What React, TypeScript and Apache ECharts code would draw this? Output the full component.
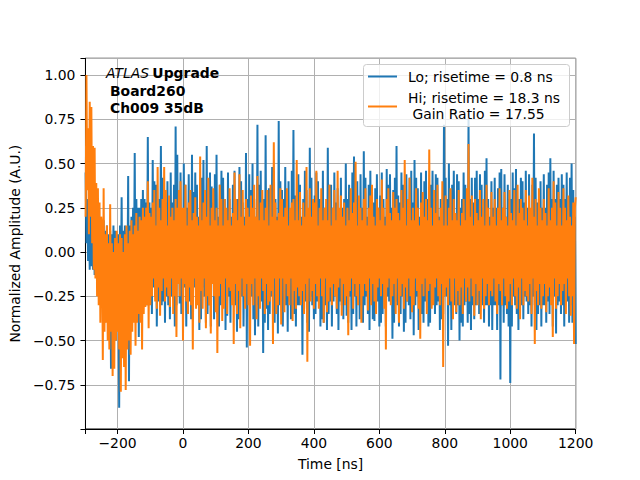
import React, { useEffect, useRef } from 'react';
import * as echarts from 'echarts';

// sample times: every 2.5 ns from -297.5 ns to 1200 ns
const tStart = -297.5;
const tStep = 2.5;

// Lo gain, normalised (20 samples per row = 50 ns)
const loValues = [
  0.45, 0.05, 0.30, -0.05, 0.25, -0.10, 0.28, -0.08, 0.20, -0.10, 0.22, -0.13, 0.15, -0.10, 0.35, -0.15, 0.22, -0.20, 0.10, -0.25,
  0.15, -0.25, 0.18, -0.40, 0.12, -0.25, 0.15, -0.30, 0.10, -0.20, 0.12, -0.66, 0.10, -0.30, 0.15, -0.25, 0.12, -0.50, 0.10, -0.20,
  0.10, -0.88, 0.15, -0.25, 0.31, -0.35, 0.12, -0.20, 0.15, -0.30, 0.10, -0.25, 0.43, -0.73, 0.15, -0.25, 0.20, -0.30, 0.25, -0.20,
  0.56, -0.30, 0.30, -0.20, 0.25, -0.48, 0.25, -0.25, 0.30, -0.35, 0.35, -0.25, 0.30, -0.22, 0.28, -0.30, 0.65, -0.30, 0.28, -0.25,
  0.25, -0.35, 0.52, -0.20, 0.40, -0.25, 0.38, -0.42, 0.20, -0.28, 0.30, -0.18, 0.60, -0.30, 0.42, -0.28, 0.20, -0.40, 0.28, -0.25,
  0.40, -0.30, 0.18, -0.38, 0.45, -0.25, 0.28, -0.20, 0.38, -0.42, 0.71, -0.30, 0.55, -0.18, 0.30, -0.29, 0.45, -0.35, 0.20, -0.25,
  0.50, -0.20, 0.38, -0.42, 0.25, -0.35, 0.44, -0.28, 0.20, -0.38, 0.55, -0.28, 0.34, -0.20, 0.45, -0.30, 0.38, -0.25, 0.20, -0.44,
  0.30, -0.38, 0.42, -0.20, 0.52, -0.25, 0.30, -0.40, 0.60, -0.35, 0.20, -0.30, 0.45, -0.42, 0.37, -0.18, 0.28, -0.38, 0.44, -0.28,
  0.55, -0.35, 0.20, -0.42, 0.38, -0.30, 0.46, -0.20, 0.42, -0.25, 0.30, -0.44, 0.20, -0.36, 0.45, -0.25, 0.30, -0.40, 0.20, -0.28,
  0.38, -0.28, 0.46, -0.30, 0.20, -0.45, 0.30, -0.38, 0.48, -0.20, 0.40, -0.25, 0.28, -0.42, 0.20, -0.28, 0.56, -0.54, 0.30, -0.20,
  0.44, -0.30, 0.35, -0.25, 0.50, -0.38, 0.30, -0.47, 0.20, -0.30, 0.72, -0.42, 0.38, -0.25, 0.46, -0.28, 0.20, -0.57, 0.30, -0.40,
  0.66, -0.32, 0.25, -0.44, 0.36, -0.35, 0.20, -0.25, 0.48, -0.28, 0.44, -0.40, 0.30, -0.35, 0.20, -0.46, 0.74, -0.30, 0.40, -0.25,
  0.35, -0.42, 0.30, -0.20, 0.48, -0.30, 0.25, -0.45, 0.40, -0.28, 0.20, -0.38, 0.46, -0.30, 0.69, -0.35, 0.32, -0.42, 0.20, -0.30,
  0.44, -0.30, 0.38, -0.25, 0.20, -0.58, 0.30, -0.32, 0.46, -0.28, 0.35, -0.40, 0.20, -0.45, 0.59, -0.25, 0.42, -0.30, 0.30, -0.38,
  0.32, -0.35, 0.45, -0.28, 0.40, -0.20, 0.30, -0.42, 0.25, -0.38, 0.46, -0.40, 0.25, -0.30, 0.20, -0.44, 0.59, -0.35, 0.38, -0.28,
  0.38, -0.42, 0.25, -0.28, 0.45, -0.20, 0.28, -0.35, 0.36, -0.44, 0.20, -0.28, 0.42, -0.30, 0.25, -0.38, 0.30, -0.28, 0.50, -0.36,
  0.30, -0.40, 0.38, -0.25, 0.20, -0.44, 0.45, -0.35, 0.54, -0.25, 0.30, -0.42, 0.40, -0.28, 0.20, -0.38, 0.44, -0.30, 0.25, -0.40,
  0.57, -0.30, 0.42, -0.25, 0.20, -0.35, 0.38, -0.44, 0.46, -0.28, 0.30, -0.38, 0.28, -0.39, 0.36, -0.20, 0.44, -0.28, 0.25, -0.42,
  0.32, -0.40, 0.45, -0.35, 0.30, -0.25, 0.20, -0.42, 0.47, -0.25, 0.38, -0.28, 0.44, -0.20, 0.25, -0.49, 0.35, -0.40, 0.42, -0.28,
  0.60, -0.30, 0.32, -0.42, 0.28, -0.35, 0.45, -0.25, 0.38, -0.45, 0.25, -0.40, 0.44, -0.28, 0.20, -0.30, 0.42, -0.38, 0.46, -0.30,
  0.28, -0.47, 0.52, -0.30, 0.42, -0.25, 0.36, -0.44, 0.20, -0.28, 0.45, -0.35, 0.25, -0.40, 0.40, -0.28, 0.46, -0.25, 0.30, -0.42,
  0.25, -0.40, 0.38, -0.25, 0.46, -0.28, 0.30, -0.35, 0.44, -0.30, 0.42, -0.28, 0.20, -0.44, 0.30, -0.38, 0.25, -0.35, 0.72, -0.25,
  0.42, -0.25, 0.30, -0.53, 0.50, -0.30, 0.25, -0.44, 0.38, -0.28, 0.46, -0.30, 0.20, -0.35, 0.44, -0.30, 0.40, -0.50, 0.25, -0.40,
  0.30, -0.42, 0.45, -0.30, 0.38, -0.28, 0.20, -0.40, 0.76, -0.35, 0.30, -0.44, 0.42, -0.30, 0.28, -0.38, 0.42, -0.30, 0.46, -0.25,
  0.30, -0.35, 0.44, -0.28, 0.38, -0.30, 0.25, -0.40, 0.46, -0.30, 0.53, -0.30, 0.30, -0.42, 0.20, -0.30, 0.40, -0.44, 0.25, -0.30,
  0.42, -0.30, 0.25, -0.44, 0.36, -0.30, 0.45, -0.72, 0.47, -0.30, 0.25, -0.40, 0.44, -0.30, 0.20, -0.35, 0.38, -0.42, 0.30, -0.74,
  0.30, -0.42, 0.45, -0.25, 0.36, -0.30, 0.47, -0.35, 0.25, -0.44, 0.30, -0.28, 0.42, -0.30, 0.40, -0.38, 0.28, -0.25, 0.46, -0.28,
  0.25, -0.35, 0.44, -0.30, 0.20, -0.42, 0.38, -0.25, 0.67, -0.30, 0.42, -0.44, 0.28, -0.35, 0.30, -0.30, 0.40, -0.42, 0.25, -0.30,
  0.44, -0.30, 0.25, -0.40, 0.38, -0.28, 0.45, -0.35, 0.53, -0.25, 0.30, -0.42, 0.46, -0.25, 0.30, -0.46, 0.38, -0.30, 0.42, -0.28,
  0.30, -0.35, 0.44, -0.30, 0.38, -0.42, 0.30, -0.25, 0.45, -0.28, 0.25, -0.40, 0.42, -0.30, 0.50, -0.40, 0.35, -0.44, 0.20, -0.52,
];

// Hi gain, normalised
const hiValues = [
  0.20, 1.00, 0.35, 0.70, 0.10, 0.85, 0.20, 0.82, 0.05, 0.60, -0.10, 0.59, -0.15, 0.39, -0.25, 0.36, -0.30, 0.28, -0.40, 0.20,
  0.15, -0.61, 0.36, -0.45, 0.10, -0.40, 0.15, -0.50, 0.05, -0.55, 0.27, -0.45, 0.05, -0.70, 0.00, -0.66, 0.08, -0.50, 0.12, -0.45,
  0.05, -0.55, 0.10, -0.79, 0.08, -0.60, 0.00, -0.65, 0.10, -0.78, 0.15, -0.55, 0.05, -0.50, 0.12, -0.58, 0.18, -0.45, 0.10, -0.40,
  0.15, -0.53, 0.22, -0.40, 0.12, -0.35, 0.20, -0.40, 0.18, -0.55, 0.25, -0.35, 0.20, -0.31, 0.25, -0.30, 0.40, -0.43, 0.22, -0.30,
  0.20, -0.25, 0.28, -0.15, 0.35, -0.28, 0.15, -0.32, 0.48, -0.20, 0.25, -0.36, 0.18, -0.22, 0.30, -0.15, 0.48, -0.28, 0.35, -0.20,
  0.15, -0.25, 0.32, -0.31, 0.20, -0.15, 0.25, -0.35, 0.18, -0.25, 0.30, -0.48, 0.25, -0.18, 0.35, -0.25, 0.40, -0.15, 0.25, -0.50,
  0.25, -0.18, 0.38, -0.28, 0.15, -0.35, 0.28, -0.20, 0.35, -0.30, 0.18, -0.55, 0.22, -0.15, 0.31, -0.32, 0.20, -0.30, 0.15, -0.40,
  0.54, -0.22, 0.18, -0.32, 0.28, -0.15, 0.35, -0.43, 0.20, -0.25, 0.42, -0.30, 0.15, -0.46, 0.25, -0.18, 0.36, -0.25, 0.18, -0.34,
  0.25, -0.57, 0.15, -0.25, 0.38, -0.18, 0.30, -0.39, 0.15, -0.32, 0.30, -0.15, 0.25, -0.35, 0.18, -0.20, 0.36, -0.22, 0.15, -0.30,
  0.22, -0.52, 0.45, -0.18, 0.30, -0.35, 0.18, -0.22, 0.44, -0.43, 0.20, -0.15, 0.35, -0.25, 0.15, -0.32, 0.30, -0.18, 0.25, -0.30,
  0.20, -0.53, 0.32, -0.18, 0.25, -0.30, 0.38, -0.15, 0.20, -0.38, 0.43, -0.25, 0.18, -0.32, 0.28, -0.15, 0.35, -0.22, 0.18, -0.35,
  0.25, -0.18, 0.35, -0.30, 0.15, -0.28, 0.38, -0.22, 0.20, -0.52, 0.62, -0.15, 0.28, -0.35, 0.18, -0.30, 0.22, -0.15, 0.36, -0.41,
  0.30, -0.15, 0.20, -0.34, 0.25, -0.18, 0.36, -0.25, 0.15, -0.30, 0.25, -0.15, 0.28, -0.39, 0.30, -0.22, 0.18, -0.32, 0.52, -0.20,
  0.18, -0.25, 0.34, -0.30, 0.15, -0.22, 0.28, -0.35, 0.20, -0.18, 0.48, -0.62, 0.25, -0.15, 0.36, -0.28, 0.20, -0.22, 0.30, -0.32,
  0.28, -0.18, 0.46, -0.25, 0.15, -0.32, 0.25, -0.15, 0.36, -0.25, 0.18, -0.40, 0.25, -0.15, 0.30, -0.34, 0.18, -0.28, 0.38, -0.20,
  0.15, -0.30, 0.25, -0.18, 0.35, -0.25, 0.18, -0.32, 0.46, -0.20, 0.25, -0.15, 0.32, -0.36, 0.20, -0.18, 0.28, -0.30, 0.15, -0.25,
  0.25, -0.47, 0.18, -0.22, 0.36, -0.15, 0.22, -0.32, 0.28, -0.18, 0.51, -0.25, 0.15, -0.30, 0.32, -0.18, 0.25, -0.40, 0.18, -0.25,
  0.30, -0.18, 0.36, -0.22, 0.15, -0.33, 0.25, -0.15, 0.32, -0.30, 0.38, -0.18, 0.20, -0.28, 0.15, -0.35, 0.30, -0.20, 0.25, -0.15,
  0.18, -0.25, 0.41, -0.18, 0.25, -0.32, 0.15, -0.55, 0.30, -0.20, 0.36, -0.15, 0.22, -0.30, 0.18, -0.25, 0.34, -0.18, 0.25, -0.35,
  0.30, -0.15, 0.22, -0.40, 0.18, -0.25, 0.35, -0.18, 0.25, -0.32, 0.52, -0.20, 0.15, -0.28, 0.30, -0.15, 0.42, -0.25, 0.18, -0.34,
  0.25, -0.30, 0.18, -0.15, 0.36, -0.22, 0.25, -0.32, 0.15, -0.49, 0.28, -0.18, 0.34, -0.25, 0.20, -0.15, 0.30, -0.35, 0.18, -0.22,
  0.58, -0.18, 0.25, -0.32, 0.15, -0.30, 0.35, -0.20, 0.22, -0.15, 0.38, -0.25, 0.18, -0.30, 0.25, -0.18, 0.40, -0.65, 0.15, -0.25,
  0.32, -0.20, 0.15, -0.30, 0.25, -0.15, 0.36, -0.28, 0.18, -0.38, 0.30, -0.15, 0.22, -0.34, 0.18, -0.22, 0.35, -0.30, 0.15, -0.20,
  0.22, -0.35, 0.30, -0.15, 0.18, -0.28, 0.36, -0.20, 0.61, -0.28, 0.20, -0.15, 0.32, -0.25, 0.15, -0.36, 0.30, -0.18, 0.22, -0.30,
  0.18, -0.22, 0.35, -0.38, 0.20, -0.15, 0.30, -0.32, 0.15, -0.25, 0.38, -0.18, 0.25, -0.30, 0.15, -0.22, 0.34, -0.25, 0.20, -0.15,
  0.30, -0.28, 0.15, -0.35, 0.25, -0.18, 0.36, -0.22, 0.18, -0.30, 0.25, -0.15, 0.34, -0.25, 0.20, -0.32, 0.15, -0.28, 0.35, -0.18,
  0.22, -0.30, 0.18, -0.15, 0.35, -0.25, 0.15, -0.32, 0.38, -0.20, 0.22, -0.38, 0.30, -0.15, 0.25, -0.30, 0.18, -0.22, 0.35, -0.25,
  0.15, -0.28, 0.32, -0.18, 0.25, -0.35, 0.42, -0.15, 0.20, -0.52, 0.30, -0.22, 0.15, -0.30, 0.36, -0.18, 0.25, -0.32, 0.18, -0.25,
  0.30, -0.18, 0.22, -0.34, 0.15, -0.25, 0.36, -0.20, 0.18, -0.30, 0.25, -0.48, 0.40, -0.15, 0.28, -0.32, 0.15, -0.25, 0.34, -0.18,
  0.25, -0.30, 0.15, -0.22, 0.36, -0.18, 0.25, -0.35, 0.18, -0.15, 0.32, -0.25, 0.20, -0.36, 0.15, -0.25, 0.28, -0.52, 0.25, 0.31,
];

const xTicks = [-200, 0, 200, 400, 600, 800, 1000, 1200];
const yTicks = [-0.75, -0.5, -0.25, 0, 0.25, 0.5, 0.75, 1.0];

const FONT = 'DejaVu Sans';
const minus = (s: string) => s.replace('-', '\u2212');
const isTick = (ticks: number[], v: number) => ticks.some((t) => Math.abs(t - v) < 1e-6);

const App: React.FC = () => {
  const chartRef = useRef<HTMLDivElement>(null);

  useEffect(() => {
    const chart = echarts.init(chartRef.current!, null, { renderer: 'svg' });

    const lo = loValues.map((v, i) => [tStart + i * tStep, v]);
    const hi = hiValues.map((v, i) => [tStart + i * tStep, v]);

    const axisText = { color: '#000', fontFamily: FONT, fontSize: 13.9 };

    chart.setOption({
      animation: false,
      backgroundColor: '#fff',
      grid: {
        left: 80.5,
        right: 64.3,
        top: 58.3,
        bottom: 51,
        show: true,
        borderColor: '#000',
        borderWidth: 1,
        backgroundColor: 'transparent',
      },
      xAxis: {
        type: 'value',
        min: -298,
        max: 1200,
        splitNumber: 7,
        name: 'Time [ns]',
        nameLocation: 'middle',
        nameGap: 28,
        nameTextStyle: axisText,
        axisLine: { show: true, onZero: false, lineStyle: { color: '#000', width: 1 } },
        axisTick: { show: true, length: 5, lineStyle: { color: '#000' } },
        axisLabel: {
          ...axisText,
          margin: 7,
          formatter: (v: number) => (isTick(xTicks, v) ? minus(String(v)) : ''),
        },
        splitLine: { show: true, lineStyle: { color: '#b0b0b0', width: 1 } },
      },
      yAxis: {
        type: 'value',
        min: -1.0,
        max: 1.095,
        interval: 0.25,
        name: 'Normalized Amplitude (A.U.)',
        nameLocation: 'middle',
        nameGap: 58,
        nameTextStyle: axisText,
        axisLine: { show: true, onZero: false, lineStyle: { color: '#000', width: 1 } },
        axisTick: { show: true, length: 5, lineStyle: { color: '#000' } },
        axisLabel: {
          ...axisText,
          margin: 10,
          formatter: (v: number) => (isTick(yTicks, v) ? minus(v.toFixed(2)) : ''),
        },
        splitLine: { show: true, lineStyle: { color: '#b0b0b0', width: 1 } },
      },
      series: [
        {
          name: 'Lo; risetime = 0.8 ns',
          type: 'line',
          data: lo,
          showSymbol: false,
          lineStyle: { color: '#1f77b4', width: 2 },
          itemStyle: { color: '#1f77b4' },
          z: 2,
        },
        {
          name: 'Hi; risetime = 18.3 ns',
          type: 'line',
          data: hi,
          showSymbol: false,
          lineStyle: { color: '#ff7f0e', width: 2 },
          itemStyle: { color: '#ff7f0e' },
          z: 3,
        },
      ],
      graphic: [
        {
          type: 'text',
          left: 106,
          top: 66,
          z: 100,
          style: {
            text: '{i|ATLAS} {b|Upgrade}',
            rich: {
              i: { fontFamily: FONT, fontSize: 13.9, fontStyle: 'italic', fill: '#000' },
              b: { fontFamily: FONT, fontSize: 13.9, fontWeight: 'bold', fill: '#000' },
            },
          },
        },
        {
          type: 'text',
          left: 110,
          top: 83,
          z: 100,
          style: {
            text: 'Board260\nCh009 35dB',
            fontFamily: FONT,
            fontSize: 13.9,
            fontWeight: 'bold',
            lineHeight: 16.5,
            fill: '#000',
          },
        },
        {
          type: 'rect',
          z: 100,
          shape: { x: 363.5, y: 64.5, width: 206, height: 62, r: 3 },
          style: { fill: 'rgba(255,255,255,0.8)', stroke: '#cccccc', lineWidth: 1 },
        },
        {
          type: 'line',
          z: 101,
          shape: { x1: 368, y1: 76.5, x2: 397, y2: 76.5 },
          style: { stroke: '#1f77b4', lineWidth: 2 },
        },
        {
          type: 'text',
          z: 101,
          x: 408,
          y: 76.5,
          style: {
            text: 'Lo; risetime = 0.8 ns',
            fontFamily: FONT,
            fontSize: 13.9,
            fill: '#000',
            verticalAlign: 'middle',
          },
        },
        {
          type: 'line',
          z: 101,
          shape: { x1: 368, y1: 106.5, x2: 397, y2: 106.5 },
          style: { stroke: '#ff7f0e', lineWidth: 2 },
        },
        {
          type: 'text',
          z: 101,
          x: 408,
          y: 105.5,
          style: {
            text: 'Hi; risetime = 18.3 ns\n Gain Ratio = 17.55',
            fontFamily: FONT,
            fontSize: 13.9,
            lineHeight: 16,
            fill: '#000',
            verticalAlign: 'middle',
          },
        },
      ],
    });

    return () => {
      chart.dispose();
    };
  }, []);

  return (
    <div
      ref={chartRef}
      style={{ position: 'fixed', left: 0, top: 0, width: '640px', height: '480px' }}
    />
  );
};

export default App;
